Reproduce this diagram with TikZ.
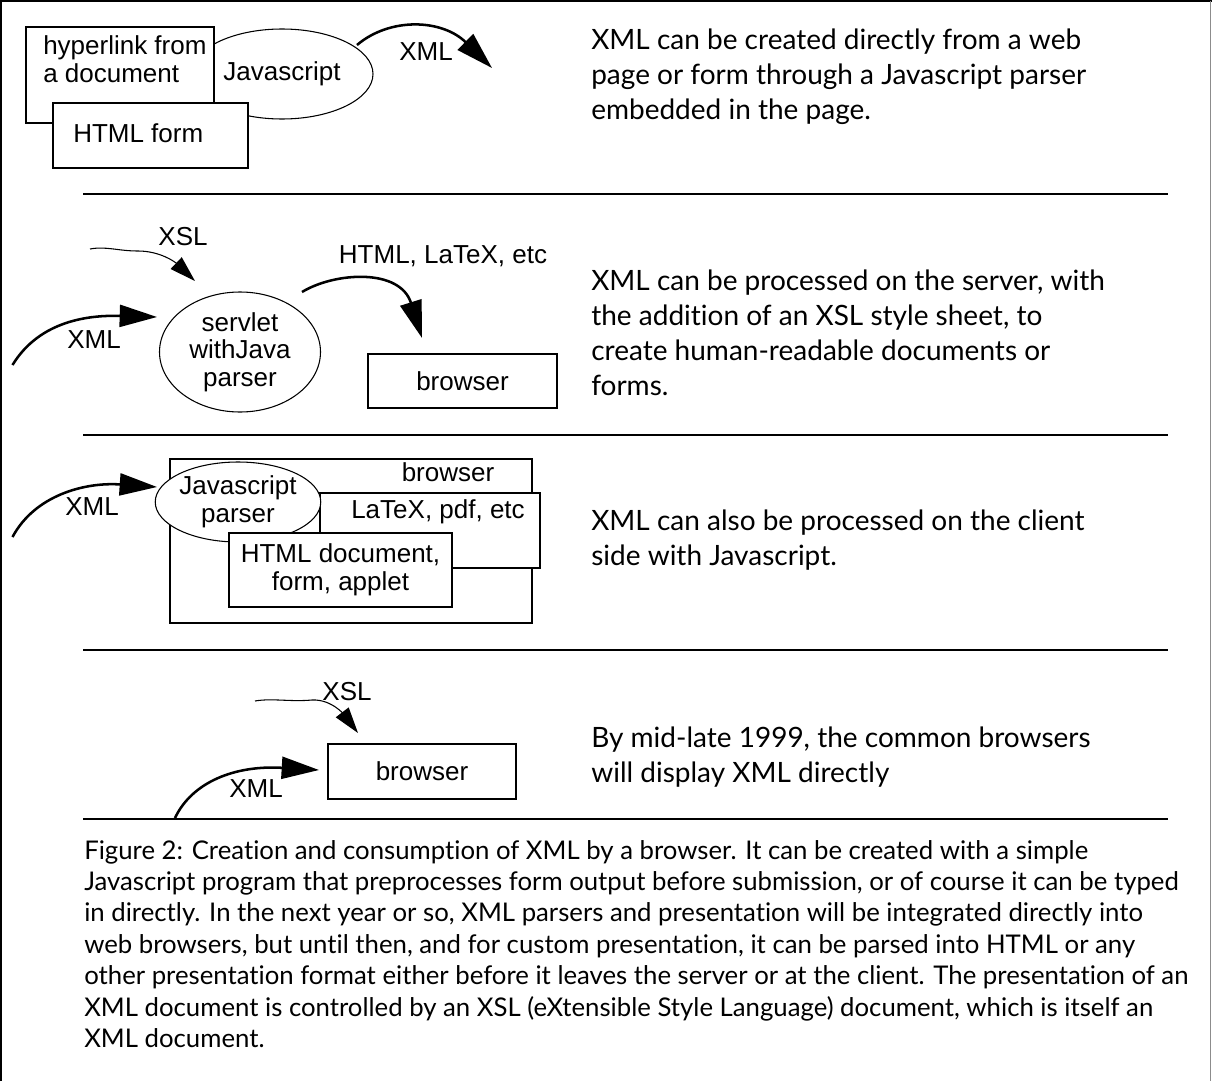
\documentclass[tikz,border=0pt]{standalone}
\usepackage{fontspec}
\newfontfamily\dgfont{Liberation Sans}
\newfontfamily\humfont[Ligatures=NoCommon]{Lato}
\usetikzlibrary{arrows.meta,shapes.geometric}
\tikzset{
  dg/.style={font=\dgfont\fontsize{19.5pt}{20.6pt}\selectfont, inner sep=0pt, align=center},
  box/.style={draw, line width=1.5pt, fill=white, dg},
  ell/.style={ellipse, draw, line width=0.8pt, fill=white, dg},
  lbl/.style={dg},
  bigarrow/.style={line width=1.9pt, -{Triangle[length=28pt,width=16.5pt]}},
  thinarrow/.style={line width=0.8pt, -{Triangle[length=19.5pt,width=12pt]}},
  sepline/.style={line width=1.5pt},
  rtext/.style={anchor=base west, inner sep=0pt, font=\humfont\fontsize{21pt}{26.25pt}\selectfont},
  captext/.style={anchor=base west, inner sep=0pt, font=\humfont\fontsize{19.3pt}{23.6pt}\selectfont},
}
\begin{document}
\begin{tikzpicture}[x=0.75pt, y=-0.75pt]
\useasboundingbox (0,0) rectangle (1212,1081);
% frame
\draw[line width=1.5pt] (1,1081) -- (1,1) -- (1212,1);
\draw[line width=0.75pt, black!45] (1210.5,1) -- (1210.5,1081);

% ---------- section 1 ----------
\node[ell, minimum width=136.5pt, minimum height=67.5pt] (js1) at (282,74) {Javascript};
\node[box, minimum width=141pt, minimum height=72pt] (hyp) at (120,75) {};
\node[lbl, anchor=base west] (hyptext) at (43,55) {\parbox[t]{150pt}{hyperlink from\\a document}};
\node[box, minimum width=146.25pt, minimum height=48.75pt] (form) at (150.5,135.5) {};
\node[lbl, anchor=base west] (formtext) at (73,142) {HTML form};
\coordinate (x1s) at (357,45);
\coordinate (x1e) at (492,68);
\draw[bigarrow] (x1s) .. controls (390,17) and (442,19) .. (x1e);
\node[lbl] (x1l) at (426,52) {XML};
\node[rtext] (r1) at (591,50) {\parbox[t]{600pt}{XML can be created directly from a web\\page or form through a Javascript parser\\embedded in the page.}};
\draw[sepline] (83,194) -- (1168,194);

% ---------- section 2 ----------
\node[lbl] (xsl2l) at (183,237) {XSL};
\coordinate (xsl2s) at (90,249);
\coordinate (xsl2e) at (195,281);
\draw[thinarrow] (xsl2s) .. controls (106,246) and (118,251) .. (138,251) .. controls (160,251) and (175,262) .. (xsl2e);
\node[ell, minimum width=120.75pt, minimum height=90pt] (srv) at (240,352) {servlet\\withJava\\parser};
\node[box, minimum width=141.75pt, minimum height=40.5pt] (br2) at (462.5,381) {browser};
\coordinate (x2s) at (12.5,365);
\coordinate (x2e) at (157,317);
\draw[bigarrow] (x2s) .. controls (40,320) and (90,315) .. (x2e);
\node[lbl] (x2l) at (94,340) {XML};
\coordinate (h2s) at (302,292);
\coordinate (h2e) at (422,338);
\draw[bigarrow] (h2s) .. controls (335,272) and (400,268) .. (h2e);
\node[lbl] (h2l) at (443,256) {HTML, LaTeX, etc};
\node[rtext] (r2) at (591,290) {\parbox[t]{600pt}{XML can be processed on the server, with\\the addition of an XSL style sheet, to\\create human-readable documents or\\forms.}};
\draw[sepline] (83,435) -- (1168,435);

% ---------- section 3 ----------
\node[box, minimum width=271.5pt, minimum height=123pt] (br3) at (351,541) {};
\node[lbl] (br3l) at (448,472) {browser};
\node[box, minimum width=165pt, minimum height=56.25pt] (ltx) at (430,530.5) {};
\node[lbl] (ltxl) at (438,512) {LaTeX, pdf, etc};
\node[ell, minimum width=120pt, minimum height=60pt] (jsp) at (238,502) {Javascript\\parser};
\node[box, minimum width=167.25pt, minimum height=55.5pt] (htm) at (340.5,570) {HTML document,\\form, applet};
\coordinate (x3s) at (12.5,537);
\coordinate (x3e) at (157,487);
\draw[bigarrow] (x3s) .. controls (35,495) and (85,482) .. (x3e);
\node[lbl] (x3l) at (92,507) {XML};
\node[rtext] (r3) at (591,530) {\parbox[t]{600pt}{XML can also be processed on the client\\side with Javascript.}};
\draw[sepline] (83,650) -- (1168,650);

% ---------- section 4 ----------
\node[lbl] (xsl4l) at (347,692) {XSL};
\coordinate (xsl4s) at (255,701);
\coordinate (xsl4e) at (358,733);
\draw[thinarrow] (xsl4s) .. controls (272,698) and (290,702) .. (312,700) .. controls (332,699) and (345,716) .. (xsl4e);
\node[box, minimum width=141pt, minimum height=41.25pt] (br4) at (422,771.5) {browser};
\coordinate (x4s) at (175,818);
\coordinate (x4e) at (319,770);
\draw[bigarrow] (x4s) .. controls (192,782) and (235,765) .. (x4e);
\node[lbl] (x4l) at (256,789) {XML};
\node[rtext] (r4) at (591,747) {\parbox[t]{600pt}{By mid-late 1999, the common browsers\\will display XML directly}};
\draw[sepline] (83,819) -- (1168,819);

% ---------- caption ----------
\node[captext] (cap) at (84,859) {\parbox[t]{1100pt}{Figure 2: Creation and consumption of XML by a browser. It can be created with a simple\\Javascript program that preprocesses form output before submission, or of course it can be typed\\in directly. In the next year or so, XML parsers and presentation will be integrated directly into\\web browsers, but until then, and for custom presentation, it can be parsed into HTML or any\\other presentation format either before it leaves the server or at the client. The presentation of an\\XML document is controlled by an XSL (eXtensible Style Language) document, which is itself an\\XML document.}};
\end{tikzpicture}
\end{document}
